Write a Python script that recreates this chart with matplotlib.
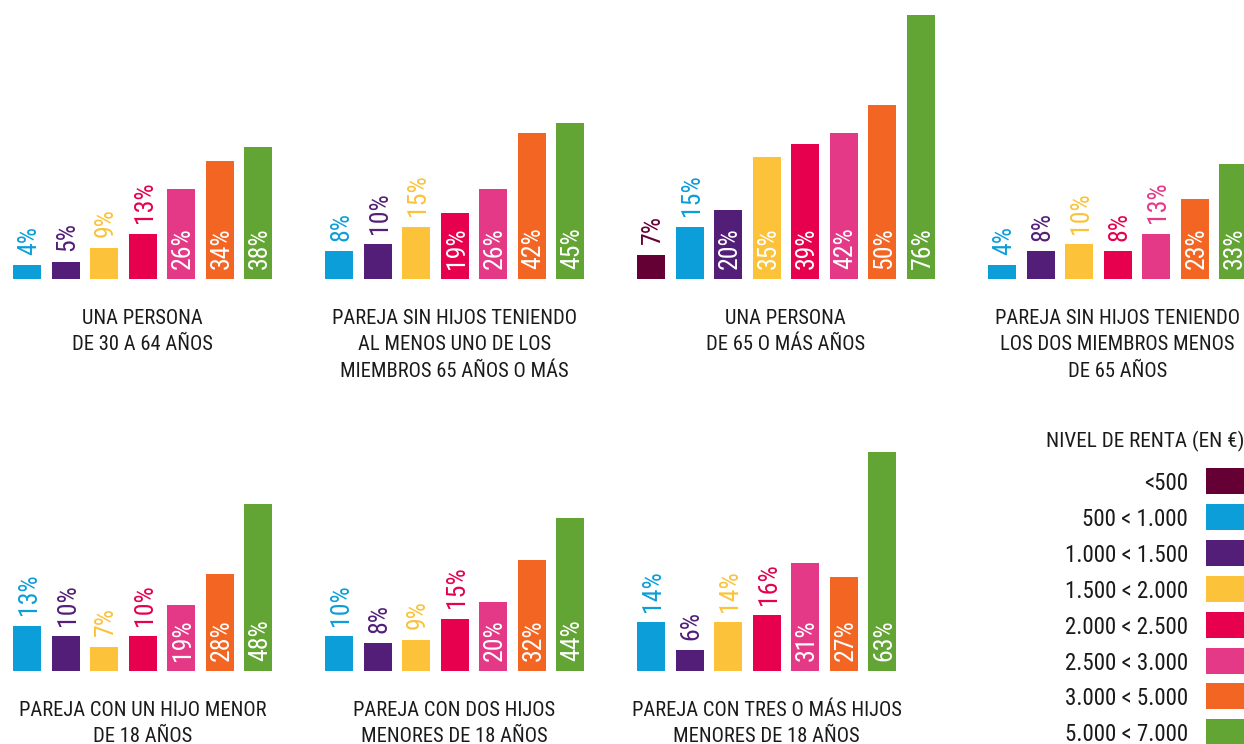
import matplotlib
matplotlib.use("Agg")
import matplotlib.pyplot as plt
from matplotlib import font_manager as fm
import numpy as np

# pick a narrow font if one is installed, else fall back to Roboto
narrow = None
for pref in ('RobotoCondensed-Regular', 'LiberationSansNarrow-Regular', 'DejaVuSansCondensed.'):
    for f in fm.fontManager.ttflist:
        if pref in f.fname:
            narrow = f.fname
            break
    if narrow:
        break
if narrow:
    fp = fm.FontProperties(fname=narrow)
else:
    fp = fm.FontProperties(family='Roboto')

# income levels (legend) and their colours
niveles = ['<500', '500 < 1.000', '1.000 < 1.500', '1.500 < 2.000',
           '2.000 < 2.500', '2.500 < 3.000', '3.000 < 5.000', '5.000 < 7.000']
colores = ['#640033', '#0c9ed9', '#521e78', '#fbc23a',
           '#e6004d', '#e43987', '#f26522', '#62a534']

# household types (None = no bar for that income level)
titulos = [
    'UNA PERSONA\nDE 30 A 64 AÑOS',
    'PAREJA SIN HIJOS TENIENDO\nAL MENOS UNO DE LOS\nMIEMBROS 65 AÑOS O MÁS',
    'UNA PERSONA\nDE 65 O MÁS AÑOS',
    'PAREJA SIN HIJOS TENIENDO\nLOS DOS MIEMBROS MENOS\nDE 65 AÑOS',
    'PAREJA CON UN HIJO MENOR\nDE 18 AÑOS',
    'PAREJA CON DOS HIJOS\nMENORES DE 18 AÑOS',
    'PAREJA CON TRES O MÁS HIJOS\nMENORES DE 18 AÑOS',
]
p1 = [None, 4, 5, 9, 13, 26, 34, 38]
p2 = [None, 8, 10, 15, 19, 26, 42, 45]
p3 = [7, 15, 20, 35, 39, 42, 50, 76]
p4 = [None, 4, 8, 10, 8, 13, 23, 33]
p5 = [None, 13, 10, 7, 10, 19, 28, 48]
p6 = [None, 10, 8, 9, 15, 20, 32, 44]
p7 = [None, 14, 6, 14, 16, 31, 27, 63]
paneles = [p1, p2, p3, p4, p5, p6, p7]

W, H = 1244, 744
fig = plt.figure(figsize=(W / 100, H / 100), dpi=100)
fig.patch.set_facecolor('white')

def frac(x, y, w, h):
    # pixel box (top-left origin) -> figure fraction
    return [x / W, 1 - (y + h) / H, w / W, h / H]

# layout in pixels
x_start = [13, 325, 637, 988, 13, 325, 637]
base = [279, 279, 279, 279, 671, 671, 671]
pitch, bw = 38.5, 28
ymax = 76
px_per = 264 / 76

for k, vals in enumerate(paneles):
    idx = [i for i, v in enumerate(vals) if v is not None]
    v = [vals[i] for i in idx]
    c = [colores[i] for i in idx]
    n = len(v)
    hpx = ymax * px_per
    ax = fig.add_axes(frac(x_start[k] - (pitch - bw) / 2, base[k] - hpx, n * pitch, hpx))
    ax.set_xlim(-0.5, n - 0.5)
    ax.set_ylim(0, ymax)
    ax.axis('off')
    ax.patch.set_alpha(0)
    x = np.arange(n)
    ax.bar(x, v, width=bw / pitch, color=c)
    for xi, vi, ci in zip(x, v, c):
        if vi >= 17:
            ax.annotate(f'{vi}%', (xi, 0), xytext=(1.5, 7.5), textcoords='offset points',
                        rotation=90, ha='center', va='bottom', color='white',
                        fontproperties=fp, fontsize=18.5, annotation_clip=False)
        else:
            ax.annotate(f'{vi}%', (xi, vi), xytext=(1.5, 7.5), textcoords='offset points',
                        rotation=90, ha='center', va='bottom', color=ci,
                        fontproperties=fp, fontsize=18.5, annotation_clip=False)
    cx = x_start[k] + ((n - 1) * pitch + bw) / 2
    fig.text(cx / W, 1 - (base[k] + 30) / H, titulos[k], ha='center', va='top',
             fontproperties=fp, fontsize=14.8, color='#1a1a1a', linespacing=1.5)

# legend
fig.text(1244 / W, 1 - 441 / H, 'NIVEL DE RENTA (EN €)', ha='right', va='center',
         fontproperties=fp, fontsize=15.2, color='#1a1a1a')
row = 35.9
lax = fig.add_axes(frac(1206, 481 - row / 2, 38, row * 8))
lax.barh(np.arange(len(niveles)), 1, height=26 / row, color=colores)
lax.set_ylim(len(niveles) - 0.5, -0.5)
lax.set_xlim(0, 1)
lax.set_yticks(np.arange(len(niveles)))
lax.set_yticklabels(niveles, fontproperties=fp, fontsize=16.5, color='#1a1a1a')
lax.tick_params(axis='y', length=0, pad=13)
lax.set_xticks([])
for s in lax.spines.values():
    s.set_visible(False)
lax.patch.set_alpha(0)

fig.savefig('out.png', dpi=100, facecolor='white')
